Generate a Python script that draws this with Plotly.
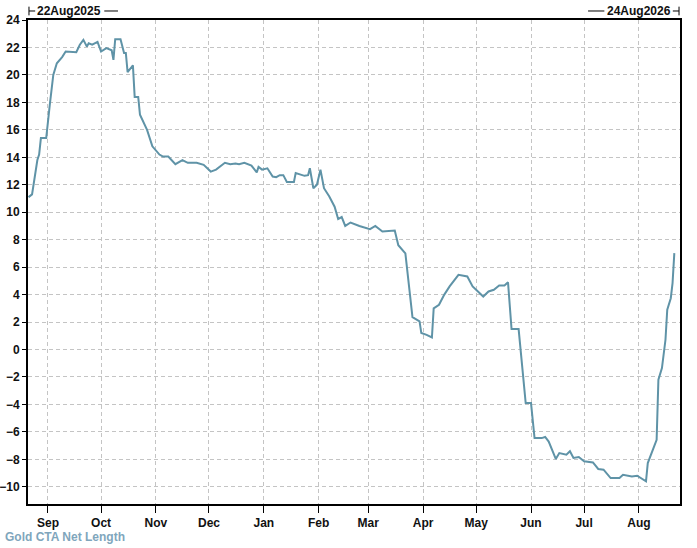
"""
Gold CTA net length, step-style line chart with a boxed frame.
"""

import plotly.graph_objects as go

# values
dates = [
    "2025-08-21", "2025-08-23", "2025-08-26", "2025-08-27", "2025-08-28",
    "2025-08-31", "2025-09-02", "2025-09-04", "2025-09-06", "2025-09-09",
    "2025-09-11", "2025-09-15", "2025-09-17", "2025-09-19", "2025-09-21",
    "2025-09-23", "2025-09-24", "2025-09-26", "2025-09-29", "2025-10-01",
    "2025-10-04", "2025-10-07", "2025-10-08", "2025-10-09", "2025-10-12",
    "2025-10-14", "2025-10-15", "2025-10-16", "2025-10-19", "2025-10-20",
    "2025-10-22", "2025-10-23", "2025-10-27", "2025-10-30", "2025-11-01",
    "2025-11-03", "2025-11-05", "2025-11-08", "2025-11-12", "2025-11-16",
    "2025-11-19", "2025-11-24", "2025-11-28", "2025-12-02", "2025-12-05",
    "2025-12-10", "2025-12-13", "2025-12-16", "2025-12-18", "2025-12-21",
    "2025-12-25", "2025-12-28", "2025-12-29", "2025-12-31", "2026-01-03",
    "2026-01-06", "2026-01-08", "2026-01-10", "2026-01-12", "2026-01-14",
    "2026-01-18", "2026-01-19", "2026-01-24", "2026-01-26", "2026-01-27",
    "2026-01-29", "2026-01-31", "2026-02-01", "2026-02-02", "2026-02-04",
    "2026-02-07", "2026-02-10", "2026-02-12", "2026-02-14", "2026-02-16",
    "2026-02-19", "2026-02-24", "2026-03-02", "2026-03-05", "2026-03-09",
    "2026-03-16", "2026-03-18", "2026-03-22", "2026-03-26", "2026-03-30",
    "2026-03-31", "2026-04-03", "2026-04-06", "2026-04-07", "2026-04-10",
    "2026-04-13", "2026-04-16", "2026-04-21", "2026-04-26", "2026-04-29",
    "2026-05-05", "2026-05-08", "2026-05-11", "2026-05-14", "2026-05-17",
    "2026-05-19", "2026-05-21", "2026-05-25", "2026-05-29", "2026-06-01",
    "2026-06-03", "2026-06-07", "2026-06-09", "2026-06-11", "2026-06-15",
    "2026-06-17", "2026-06-21", "2026-06-23", "2026-06-25", "2026-06-28",
    "2026-07-01", "2026-07-06", "2026-07-09", "2026-07-12", "2026-07-16",
    "2026-07-21", "2026-07-23", "2026-07-28", "2026-07-31", "2026-08-05",
    "2026-08-06", "2026-08-11", "2026-08-12", "2026-08-14", "2026-08-16",
    "2026-08-17", "2026-08-19", "2026-08-20", "2026-08-21",
]
net_length = [
    11.1, 11.3, 13.8, 14.2, 15.4,
    15.4, 17.8, 20.0, 20.85, 21.3,
    21.7, 21.7, 21.65, 22.2, 22.55,
    22.06, 22.3, 22.2, 22.4, 21.7,
    21.95, 21.8, 21.1, 22.6, 22.6,
    21.6, 21.6, 20.2, 20.7, 18.4,
    18.4, 17.1, 16.0, 14.8, 14.5,
    14.2, 14.05, 14.05, 13.5, 13.8,
    13.6, 13.6, 13.45, 12.96, 13.1,
    13.6, 13.5, 13.55, 13.5, 13.6,
    13.4, 12.9, 13.3, 13.1, 13.2,
    12.6, 12.55, 12.7, 12.7, 12.2,
    12.2, 12.85, 12.65, 12.7, 13.2,
    11.75, 12.0, 12.6, 13.1, 11.75,
    11.15, 10.4, 9.5, 9.65, 9.0,
    9.25, 9.0, 8.77, 9.0, 8.6,
    8.67, 7.6, 7.0, 2.36, 2.05,
    1.2, 1.07, 0.88, 3.0, 3.26,
    4.0, 4.6, 5.44, 5.32, 4.6,
    3.86, 4.23, 4.35, 4.66, 4.66,
    4.9, 1.49, 1.49, -3.9, -3.9,
    -6.45, -6.45, -6.37, -6.7, -7.97,
    -7.54, -7.66, -7.41, -7.9, -7.83,
    -8.14, -8.22, -8.7, -8.75, -9.36,
    -9.36, -9.12, -9.24, -9.19, -9.6,
    -8.27, -6.57, -2.2, -1.35, 0.71,
    2.9, 3.74, 4.84, 7.02,
]
month_ticks = [
    "2025-09-01", "2025-10-01", "2025-11-01", "2025-12-01", "2026-01-01",
    "2026-02-01", "2026-03-01", "2026-04-01", "2026-05-01", "2026-06-01",
    "2026-07-01", "2026-08-01",
]
month_labels = ["Sep", "Oct", "Nov", "Dec", "Jan", "Feb", "Mar", "Apr",
                "May", "Jun", "Jul", "Aug"]
y_ticks = list(range(-10, 25, 2))
start_label = "22Aug2025"
end_label = "24Aug2026"
series_name = "Gold CTA Net Length"

FONT = "Arial, 'Liberation Sans', sans-serif"
LINE_COLOR = "#5f93a7"
GRID_COLOR = "#c4c4c4"

fig = go.Figure(
    go.Scatter(
        x=dates,
        y=net_length,
        mode="lines",
        line=dict(color=LINE_COLOR, width=2),
        name=series_name,
        showlegend=False,
    )
)

axis_common = dict(
    automargin=False,
    showline=True,
    linecolor="black",
    linewidth=2,
    mirror=True,
    ticks="outside",
    tickcolor="black",
    tickwidth=1,
    showgrid=True,
    gridcolor=GRID_COLOR,
    gridwidth=1,
    griddash="4px,3px",
    zeroline=False,
    tickfont=dict(family=FONT, size=12, color="#111111", weight="bold"),
)

fig.update_layout(
    width=697,
    height=548,
    margin=dict(l=28, r=17, t=20, b=44),
    paper_bgcolor="white",
    plot_bgcolor="white",
    font=dict(family=FONT, size=12, color="#111111"),
    xaxis=dict(
        **axis_common,
        type="date",
        range=["2025-08-20 17:00", "2026-08-24 05:00"],
        tickmode="array",
        tickvals=month_ticks,
        ticktext=month_labels,
        ticklen=7,
        ticklabelstandoff=0,
    ),
    yaxis=dict(
        **axis_common,
        range=[-11.25, 24],
        tickmode="array",
        tickvals=y_ticks,
        ticklen=4,
        ticklabelstandoff=0,
    ),
)

# top range labels: |-22Aug2025--   --24Aug2026-|
bar_y = 1.0186
fig.add_shape(type="line", xref="paper", yref="paper",
              x0=0.0015, x1=0.0015, y0=bar_y - 0.009, y1=bar_y + 0.009,
              line=dict(color="black", width=1))
fig.add_shape(type="line", xref="paper", yref="paper",
              x0=0.0015, x1=0.011, y0=bar_y, y1=bar_y,
              line=dict(color="black", width=1))
fig.add_shape(type="line", xref="paper", yref="paper",
              x0=0.117, x1=0.138, y0=bar_y, y1=bar_y,
              line=dict(color="black", width=1))
fig.add_annotation(text=start_label, xref="paper", yref="paper",
                   x=0.0115, y=bar_y, xanchor="left", yanchor="middle",
                   showarrow=False,
                   font=dict(family=FONT, size=12, color="#111111", weight="bold"))

fig.add_shape(type="line", xref="paper", yref="paper",
              x0=0.9985, x1=0.9985, y0=bar_y - 0.009, y1=bar_y + 0.009,
              line=dict(color="black", width=1))
fig.add_shape(type="line", xref="paper", yref="paper",
              x0=0.989, x1=0.9985, y0=bar_y, y1=bar_y,
              line=dict(color="black", width=1))
fig.add_shape(type="line", xref="paper", yref="paper",
              x0=0.859, x1=0.884, y0=bar_y, y1=bar_y,
              line=dict(color="black", width=1))
fig.add_annotation(text=end_label, xref="paper", yref="paper",
                   x=0.9885, y=bar_y, xanchor="right", yanchor="middle",
                   showarrow=False,
                   font=dict(family=FONT, size=12, color="#111111", weight="bold"))

# series name at bottom left
fig.add_annotation(text=series_name, xref="paper", yref="paper",
                   x=-0.039, y=-0.069, xanchor="left", yanchor="middle",
                   showarrow=False,
                   font=dict(family=FONT, size=12, color="#7fa6bc", weight="bold"))

# the page's default body margin would push the figure 8px off its spot
fig.write_html(
    "out.html",
    config={"displayModeBar": False},
    post_script="document.body.style.margin = '0';",
)
